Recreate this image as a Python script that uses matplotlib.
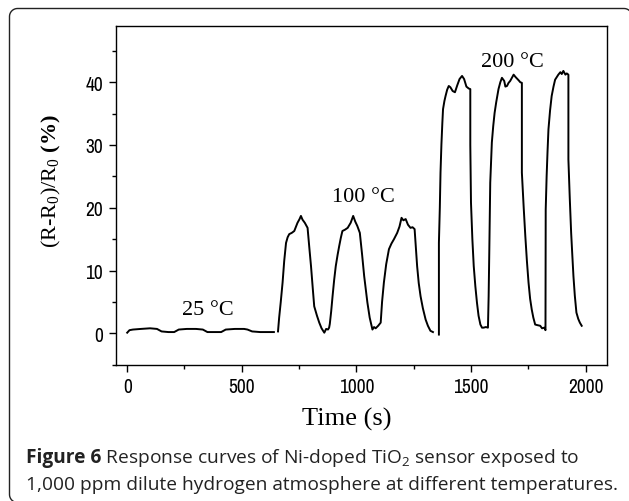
"""
Response curves of Ni-doped TiO2 sensor at 25, 100 and 200 C.
"""
import numpy as np
import matplotlib
matplotlib.use('Agg')
import matplotlib.pyplot as plt
from matplotlib import font_manager
from matplotlib.font_manager import FontProperties
from matplotlib.lines import Line2D
from matplotlib.transforms import IdentityTransform

# 25 C run
time_25 = [0, 10, 25, 60, 100, 130, 150, 180, 205, 225, 260, 300, 330, 350,
           380, 410, 430, 470, 510, 525, 545, 580, 640]
resp_25 = [0.1, 0.5, 0.6, 0.7, 0.8, 0.7, 0.3, 0.2, 0.2, 0.6, 0.7, 0.7, 0.6, 0.2,
           0.2, 0.2, 0.6, 0.7, 0.7, 0.6, 0.3, 0.2, 0.2]

# 100 C run
time_100 = [658, 663, 670, 678, 685, 693, 700, 707, 718, 729, 743, 752, 758, 765,
            775, 787, 795, 802, 810, 816, 828, 838, 848, 860, 868, 876, 881, 884,
            890, 896, 903, 910, 918, 925, 932, 939, 950, 962, 975, 986, 995, 1004,
            1015, 1025, 1034, 1041, 1048, 1058, 1070, 1077, 1084, 1095, 1106, 1112,
            1120, 1130, 1142, 1153, 1164, 1178, 1188, 1197, 1205, 1215, 1225, 1236,
            1245, 1254, 1265, 1272, 1280, 1290, 1302, 1312, 1323, 1334]
resp_100 = [0.3, 2.5, 5.0, 8.1, 11.5, 14.4, 15.3, 15.8, 16.0, 16.3, 17.6, 18.2, 18.7, 18.1,
            17.6, 16.8, 13.5, 10.7, 7.0, 4.3, 2.8, 1.7, 0.8, 0.1, 0.7, 0.6, 0.9, 1.5,
            3.5, 5.9, 8.5, 10.7, 12.5, 13.9, 15.2, 16.3, 16.5, 16.8, 17.6, 18.7, 17.8, 17.1,
            16.0, 12.5, 9.1, 7.0, 4.9, 2.5, 0.6, 1.0, 0.8, 1.2, 1.7, 5.0,
            8.1, 11.0, 13.4, 14.3, 15.0, 16.0, 17.0, 18.4, 18.0, 18.2, 17.3, 16.8,
            16.9, 16.6, 10.7, 8.0, 5.9, 4.0, 2.2, 1.2, 0.4, 0.2]

# 200 C run
time_200 = [1360, 1360, 1364, 1367, 1371, 1375, 1378, 1384, 1389, 1396, 1403, 1410,
            1420, 1430, 1440, 1450, 1461, 1470, 1480, 1490, 1497, 1497, 1500, 1506,
            1512, 1519, 1526, 1533, 1541, 1548, 1555, 1565, 1574, 1577, 1580, 1584,
            1591, 1597, 1603, 1610, 1620, 1628, 1635, 1645, 1650, 1657, 1664, 1671,
            1680, 1686, 1695, 1708, 1715, 1722, 1722, 1730, 1737, 1744, 1751, 1758,
            1765, 1772, 1780, 1790, 1802, 1810, 1820, 1825, 1826, 1830, 1834, 1838,
            1845, 1852, 1860, 1867, 1874, 1881, 1890, 1896, 1903, 1912, 1918, 1925,
            1925, 1931, 1937, 1942, 1947, 1953, 1960, 1968, 1975, 1983]
resp_200 = [-0.2, 14.4, 20.0, 25.6, 30.1, 33.5, 35.7, 37.0, 37.8, 38.8, 39.4, 39.2,
            38.6, 38.4, 39.5, 40.5, 41.0, 40.5, 39.3, 39.0, 38.9, 30.0, 20.8, 15.0,
            10.7, 7.5, 4.9, 2.8, 1.4, 0.9, 0.9, 1.0, 0.9, 5.9, 13.4, 24.0,
            30.4, 33.0, 35.1, 36.8, 38.9, 40.0, 40.7, 40.2, 39.3, 39.4, 39.9, 40.2,
            40.8, 41.2, 40.8, 40.3, 40.0, 39.9, 25.6, 20.0, 15.5, 11.5, 8.1, 5.5,
            3.8, 2.5, 1.4, 1.3, 1.2, 0.8, 0.9, 0.5, 19.7, 25.0, 29.0, 32.5,
            35.5, 37.8, 39.3, 40.4, 40.8, 41.2, 41.6, 41.3, 41.8, 41.2, 41.4, 41.2,
            27.7, 21.5, 16.0, 12.5, 9.1, 6.0, 3.3, 2.3, 1.7, 1.2]

x_ticks = [0, 500, 1000, 1500, 2000]
y_ticks = [0, 10, 20, 30, 40]
temp_labels = ['25 °C', '100 °C', '200 °C']

SERIF = ['Liberation Serif', 'DejaVu Serif']
CAPTION = ['Open Sans', 'DejaVu Sans']


def narrow_font():
    """Find a narrow/condensed sans for the tick labels, if one is installed."""
    condensed = []
    for f in font_manager.fontManager.ttflist:
        low = f.fname.lower()
        if f.style != 'normal' or 'bold' in low or 'oblique' in low or 'italic' in low:
            continue
        if 'narrow' in f.name.lower() or 'narrow' in low:
            return FontProperties(fname=f.fname, size=14)
        if 'condensed' in low and 'sans' in low:
            condensed.append(f.fname)
    if condensed:
        return FontProperties(fname=sorted(condensed)[0], size=12.5)
    return FontProperties(family='DejaVu Sans', size=12)


def open_frame(left, top, right, bottom, r):
    """Rounded frame path (pixels, y up) without the right-hand side."""
    a1 = np.linspace(1.5 * np.pi, np.pi, 12)
    a2 = np.linspace(np.pi, 0.5 * np.pi, 12)
    a3 = np.linspace(0.5 * np.pi, 0.0, 12)
    xs = np.concatenate([left + r + r * np.cos(a1), left + r + r * np.cos(a2),
                         right - r + r * np.cos(a3)])
    ys = np.concatenate([bottom + r + r * np.sin(a1), top - r + r * np.sin(a2),
                         top - r + r * np.sin(a3)])
    return xs, ys


plt.rcParams['mathtext.fontset'] = 'custom'
plt.rcParams['mathtext.rm'] = 'Liberation Serif'
plt.rcParams['mathtext.bf'] = 'Liberation Serif:bold'
plt.rcParams['mathtext.sf'] = 'Open Sans'

fig = plt.figure(figsize=(6.29, 5.02), dpi=100)
ax = fig.add_axes([0.184, 0.2715, 0.7816, 0.6753])

for t, r in [(time_25, resp_25), (time_100, resp_100), (time_200, resp_200)]:
    ax.plot(t, r, color='black', lw=1.4)

ax.set_xlim(-50, 2095)
ax.set_ylim(-5, 49)
ax.set_xticks(x_ticks)
ax.set_yticks(y_ticks)
ax.set_xticks([250, 750, 1250, 1750], minor=True)
ax.set_yticks([-5, 5, 15, 25, 35, 45], minor=True)
ax.tick_params(which='major', direction='out', length=5, width=1, pad=4,
               top=False, right=False)
ax.tick_params(which='minor', direction='out', length=3, width=1,
               top=False, right=False)
tick_fp = narrow_font()
for lbl in ax.get_xticklabels() + ax.get_yticklabels():
    lbl.set_fontproperties(tick_fp)
for sp in ax.spines.values():
    sp.set_linewidth(1.0)

# temperature annotations
ax.text(353, 3.0, temp_labels[0], ha='center', va='baseline', family=SERIF, fontsize=16)
ax.text(1030, 21.1, temp_labels[1], ha='center', va='baseline', family=SERIF, fontsize=16)
ax.text(1681, 42.6, temp_labels[2], ha='center', va='baseline', family=SERIF, fontsize=16)

ax.set_xlabel('Time (s)', family=SERIF, fontsize=19)
ax.xaxis.label.set_va('baseline')
ax.xaxis.set_label_coords(0.4695, -0.1764)
ax.set_ylabel(r'(R-R$_0$)/R$_0$ $\mathbf{(\%)}$', family=SERIF, fontsize=16)
ax.yaxis.label.set_va('center')
ax.yaxis.set_label_coords(-0.13, 0.5457)

# rounded frame around figure + caption; right side runs off the page
W, H = 629, 502
fx, fy = open_frame(9.5, H - 9.5, 632, -1.5, 8)
fig.add_artist(Line2D(fx, fy, transform=IdentityTransform(), color='#222222', lw=1.0))

cap_color = '#222222'
cap_size = 13.8
t1 = fig.text(26 / W, (H - 463.5) / H, 'Figure 6', fontsize=cap_size, fontweight='bold',
              family=CAPTION, color=cap_color, va='baseline')
fig.canvas.draw()
bb = t1.get_window_extent()
fig.text(bb.x1 / fig.bbox.width, (H - 463.5) / H,
         r' Response curves of Ni-doped TiO$_\mathsf{2}$ sensor exposed to',
         fontsize=cap_size, family=CAPTION, color=cap_color, va='baseline')
fig.text(26 / W, (H - 490.5) / H,
         '1,000 ppm dilute hydrogen atmosphere at different temperatures.',
         fontsize=cap_size, family=CAPTION, color=cap_color, va='baseline')

plt.savefig('out.png', dpi=100)
plt.close()
